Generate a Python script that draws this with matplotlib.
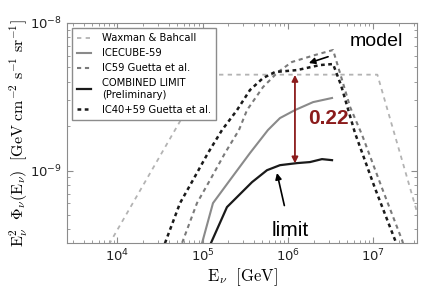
import matplotlib
matplotlib.use('Agg')
import matplotlib.pyplot as plt
from matplotlib.ticker import NullFormatter
import numpy as np

# values, as log10(E / GeV) and log10(E^2 Phi)
wb_logE = [3.85, 5.05, 7.05, 7.70]
wb_logF = [-9.55, -8.35, -8.35, -9.65]

ic59_logE = [4.968, 4.992, 5.121, 5.320, 5.555, 5.766, 5.907, 6.083, 6.295, 6.518]
ic59_logF = [-9.539, -9.492, -9.220, -9.064, -8.881, -8.725, -8.644, -8.590, -8.536, -8.508]

g59_logE = [4.727, 4.757, 4.933, 5.086, 5.262, 5.426, 5.520, 5.708, 5.884, 6.048,
            6.318, 6.530, 6.636, 6.730, 6.871, 7.105, 7.340, 7.375]
g59_logF = [-9.539, -9.492, -9.220, -9.064, -8.881, -8.725, -8.590, -8.434, -8.332, -8.264,
            -8.217, -8.183, -8.386, -8.569, -8.759, -9.119, -9.471, -9.539]

comb_logE = [5.062, 5.086, 5.285, 5.579, 5.755, 5.907, 6.107, 6.259, 6.400, 6.518]
comb_logF = [-9.539, -9.505, -9.247, -9.078, -8.997, -8.963, -8.949, -8.942, -8.922, -8.929]

g4059_logE = [4.534, 4.557, 4.734, 4.886, 5.062, 5.227, 5.403, 5.555, 5.708, 5.849,
              6.107, 6.377, 6.530, 6.623, 6.788, 7.022, 7.258, 7.304]
g4059_logF = [-9.539, -9.492, -9.220, -9.064, -8.881, -8.725, -8.590, -8.454, -8.373, -8.332,
              -8.319, -8.285, -8.278, -8.420, -8.746, -9.119, -9.471, -9.539]

# 0.22 arrow between limit and model
ratio_E = 1.21e6
ratio_lo = 1.12e-9
ratio_hi = 4.45e-9


def lin(v):
    return 10.0 ** np.array(v)


fig = plt.figure(figsize=(4.29, 2.91), dpi=100)
ax = fig.add_axes([0.156, 0.165, 0.816, 0.756])

ax.plot(lin(wb_logE), lin(wb_logF), color='#b3b3b3', lw=1.3,
        ls=(0, (2.4, 2.4)), label='Waxman & Bahcall')
ax.plot(lin(ic59_logE), lin(ic59_logF), color='#8a8a8a', lw=1.5,
        label='ICECUBE-59')
ax.plot(lin(g59_logE), lin(g59_logF), color='#7a7a7a', lw=1.5,
        ls=(0, (2.0, 1.8)), label='IC59 Guetta et al.')
ax.plot(lin(comb_logE), lin(comb_logF), color='#1a1a1a', lw=1.6,
        label='COMBINED LIMIT\n(Preliminary)')
ax.plot(lin(g4059_logE), lin(g4059_logF), color='#1a1a1a', lw=1.8,
        ls=(0, (1.5, 1.4)), label='IC40+59 Guetta et al.')

ax.set_xscale('log')
ax.set_yscale('log')
ax.set_xlim(10 ** 3.407, 10 ** 7.515)
ax.set_ylim(10 ** -9.49, 1e-8)
ax.xaxis.set_minor_formatter(NullFormatter())
ax.yaxis.set_minor_formatter(NullFormatter())

for s in ax.spines.values():
    s.set_color('#8c8c8c')
ax.tick_params(which='both', direction='in', top=True, right=True,
               colors='#8c8c8c', labelcolor='#222222', labelsize=9.5)
ax.tick_params(which='major', length=4)
ax.tick_params(which='minor', length=2)

ax.set_xlabel(r'$\mathrm{E}_\nu\ \ [\mathrm{GeV}]$', fontsize=12,
              math_fontfamily='cm', labelpad=1)
ax.set_ylabel(r'$\mathrm{E}_\nu^2\ \ \Phi_\nu(\mathrm{E}_\nu)\ \ [\mathrm{GeV\ cm^{-2}\ s^{-1}\ sr^{-1}}]$',
              fontsize=11.5, math_fontfamily='cm')
ax.yaxis.set_label_coords(-0.105, 0.5)

leg = ax.legend(loc='upper left', bbox_to_anchor=(0.014, 0.977), borderaxespad=0,
                fontsize=7.2, handlelength=1.4, handletextpad=1.1, borderpad=0.5,
                labelspacing=0.5, fancybox=False, framealpha=1)
leg.get_frame().set_edgecolor('#8c8c8c')
leg.get_frame().set_linewidth(1.0)

red = '#8b1c1c'
ax.annotate('', xy=(ratio_E, ratio_hi), xytext=(ratio_E, ratio_lo),
            arrowprops=dict(arrowstyle='<|-|>', color=red, lw=1.3,
                            mutation_scale=9, shrinkA=0, shrinkB=0))
ax.text(0.746, 0.564, '0.22', transform=ax.transAxes, color=red, fontsize=15,
        fontweight='bold', ha='center', va='center', family='Liberation Sans')

ax.annotate('model', xy=(0.691, 0.818), xytext=(0.883, 0.918),
            xycoords='axes fraction', textcoords='axes fraction',
            ha='center', va='center', fontsize=14, family='Liberation Sans',
            arrowprops=dict(arrowstyle='-|>', color='black', lw=1.2,
                            mutation_scale=9, shrinkA=14, shrinkB=0))
ax.annotate('limit', xy=(0.60, 0.318), xytext=(0.637, 0.059),
            xycoords='axes fraction', textcoords='axes fraction',
            ha='center', va='center', fontsize=15, family='Liberation Sans',
            arrowprops=dict(arrowstyle='-|>', color='black', lw=1.2,
                            mutation_scale=9, shrinkA=9, shrinkB=0))

fig.savefig('out.png', dpi=100)
